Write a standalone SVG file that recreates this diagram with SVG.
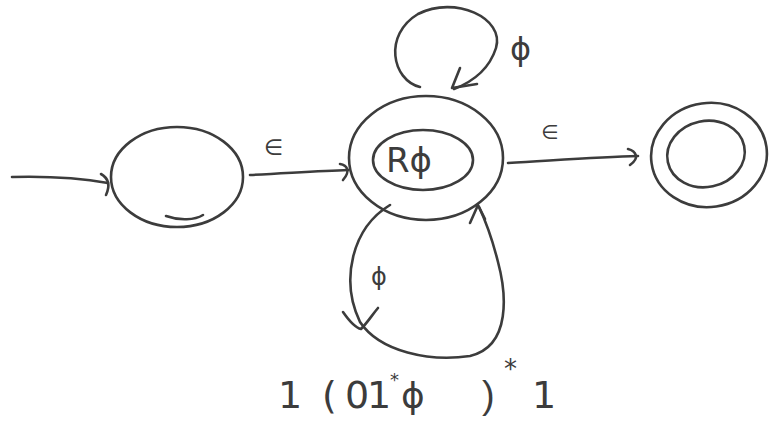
<svg xmlns="http://www.w3.org/2000/svg" width="777" height="423" viewBox="0 0 777 423">
<style>
.s{fill:none;stroke:#3c3c3c;stroke-width:2.6;stroke-linecap:round;stroke-linejoin:round}
.t{font-family:"DejaVu Sans","Liberation Sans",sans-serif;fill:#3c3c3c}
</style>
<rect width="777" height="423" fill="#ffffff"/>
<g id="connectors">
  <g id="start-arrow">
    <path class="s" d="M12,177 C50,176 80,178 108,183"/>
    <path class="s" d="M101,174 C108,178 111,184 106,195"/>
  </g>
  <g id="edge-q0-q1">
    <path class="s" d="M250,175 C290,173 320,171 348,170"/>
    <path class="s" d="M340,164 C347,165 351,171 343,180"/>
    <text class="t" x="264" y="155" font-size="22">∈</text>
  </g>
  <g id="edge-q1-q2">
    <path class="s" d="M508,163 C560,160 600,157 638,156"/>
    <path class="s" d="M628,149 C636,151 640,158 630,165"/>
    <text class="t" x="541" y="139" font-size="20">∈</text>
  </g>
  <g id="loop-top">
    <path class="s" d="M420,87 C392,80 383,35 418,14 C455,-5 505,18 496,48 C489,70 472,82 454,89"/>
    <path class="s" d="M460,68 L452,88 L477,84"/>
    <text class="t" x="510" y="60" font-size="32">ϕ</text>
  </g>
  <g id="loop-bottom">
    <path class="s" d="M390,205 C352,228 340,280 360,322 C380,352 430,362 470,356 C512,346 506,292 498,262 C493,242 488,226 479,207"/>
    <path class="s" d="M343,312 C350,322 356,328 361,329 C368,322 372,315 378,308"/>
    <path class="s" d="M470,223 L478,205 L485,219"/>
    <text class="t" x="371" y="285" font-size="24">ϕ</text>
  </g>
</g>
<g id="q0">
  <ellipse class="s" cx="177" cy="177" rx="66" ry="50"/>
  <path class="s" d="M166,216 C180,221 195,220 203,215"/>
</g>
<g id="q1">
  <ellipse class="s" cx="426" cy="158" rx="77" ry="62"/>
  <ellipse class="s" cx="423" cy="160" rx="50" ry="30"/>
  <text class="t" x="386" y="172" font-size="34">Rϕ</text>
</g>
<g id="q2">
  <ellipse class="s" cx="709" cy="155" rx="58" ry="52" transform="rotate(-8 709 155)"/>
  <ellipse class="s" cx="706" cy="154" rx="39" ry="33" transform="rotate(-12 706 154)"/>
</g>
<text class="t" font-family="Liberation Sans, sans-serif" font-size="38" y="408"><tspan x="278">1</tspan><tspan x="322">(</tspan><tspan x="345">0</tspan><tspan x="367">1</tspan><tspan x="390" y="386" font-size="18">*</tspan><tspan x="401" y="408" font-family="DejaVu Sans, sans-serif" font-size="36">ϕ</tspan><tspan x="482" font-family="Liberation Sans, sans-serif" font-size="38">)</tspan><tspan x="504" y="378" font-size="26">*</tspan><tspan x="532" y="408" font-size="38">1</tspan></text>
</svg>
